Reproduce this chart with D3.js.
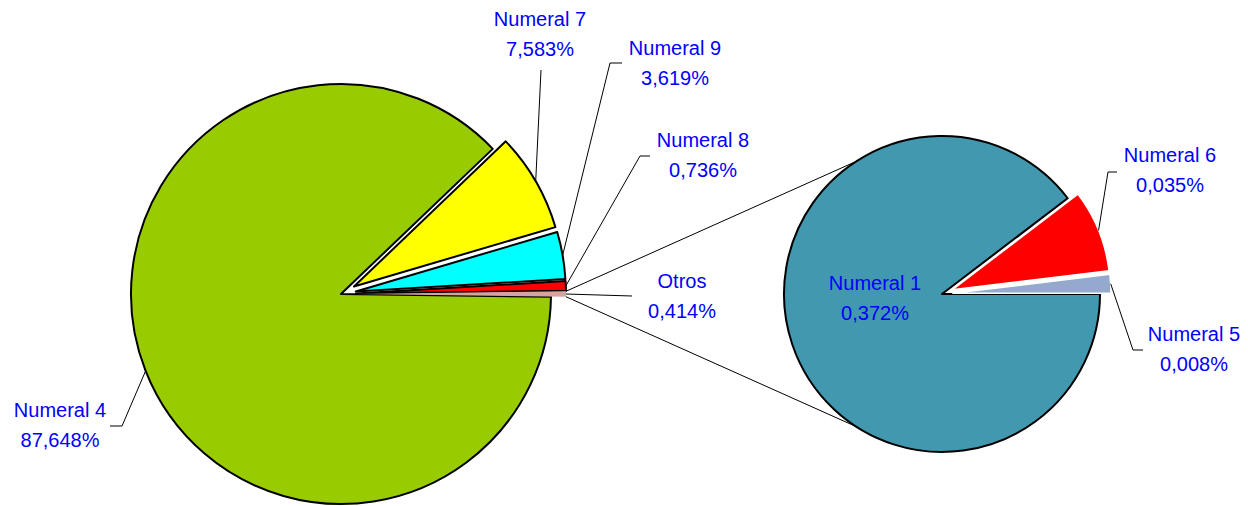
<!DOCTYPE html>
<html>
<head>
<meta charset="utf-8">
<script src="https://cdn.jsdelivr.net/npm/d3@7"></script>
<style>
  body { margin: 0; background: #ffffff; }
  svg { display: block; }
  .lbl { font-family: "Liberation Sans", Arial, sans-serif; font-size: 20px; fill: #0000ff; text-anchor: middle; }
</style>
</head>
<body>
<div id="vis"></div>
<script>
// ----------DATA----------------
const mainNames = ["Otros", "Numeral 8", "Numeral 9", "Numeral 7", "Numeral 4"];
const mainValues = [0.414, 0.736, 3.619, 7.583, 87.648];
const mainLabels = ["0,414%", "0,736%", "3,619%", "7,583%", "87,648%"];

const subNames = ["Numeral 5", "Numeral 6", "Numeral 1"];
const subValues = [0.008, 0.035, 0.372];
const subLabels = ["0,008%", "0,035%", "0,372%"];

// ----------CONSTANTS FOR PAGE SETUP----------------
const FRAME_WIDTH = 1248;
const FRAME_HEIGHT = 506;

const MAIN = { cx: 341, cy: 294, r: 210, explode: 15 };
const SUB = { cx: 942, cy: 294, r: 158, explode: 11 };

const mainColors = ["#d9a2a2", "#ff0000", "#00ffff", "#ffff00", "#99cc00"];
const subColors = ["#95a9cf", "#ff0000", "#4298af"];

// label text position (x center, first baseline) and leader elbow points
const mainLayout = [
  { x: 682, y: 288, path: [[632, 296]] },
  { x: 703, y: 147, path: [[640, 156], [650, 156]] },
  { x: 675, y: 55, path: [[610, 63], [622, 63]] },
  { x: 540, y: 26, path: [[541, 70]] },
  { x: 60, y: 417, path: [[122, 426], [110, 426]] }
];
const subLayout = [
  { x: 1194, y: 341, path: [[1133, 350], [1143, 350]] },
  { x: 1170, y: 162, path: [[1108, 172], [1117, 172]] },
  { x: 875, y: 290, path: null }
];

const FRAME = d3.select("#vis")
  .append("svg")
  .attr("width", FRAME_WIDTH)
  .attr("height", FRAME_HEIGHT);

// math angle (ccw from east, radians) of a d3 arc angle
const toMath = a => Math.PI / 2 - a;

function buildPie(values, conf, firstStart) {
  const pie = d3.pie().sort(null)
    .startAngle(firstStart)
    .endAngle(firstStart - 2 * Math.PI);
  return pie(values).map((d, i) => {
    const mid = toMath((d.startAngle + d.endAngle) / 2);
    const ex = (i === values.length - 1) ? 0 : conf.explode;
    d.dx = ex * Math.cos(mid);
    d.dy = -ex * Math.sin(mid);
    d.mid = mid;
    d.edge = [conf.cx + d.dx + conf.r * Math.cos(mid), conf.cy + d.dy - conf.r * Math.sin(mid)];
    return d;
  });
}

const otrosSpan = mainValues[0] / d3.sum(mainValues) * 2 * Math.PI;
const mainArcs = buildPie(mainValues, MAIN, Math.PI / 2 + otrosSpan / 2);
const subArcs = buildPie(subValues, SUB, Math.PI / 2);

// ---------CONNECTOR LINES BETWEEN PIES-------------
const otros = mainArcs[0];
const conn = [otros.startAngle, otros.endAngle].map((a, k) => {
  const t = toMath(a);
  const start = [MAIN.cx + otros.dx + MAIN.r * Math.cos(t), MAIN.cy + otros.dy - MAIN.r * Math.sin(t)];
  const phi = (k === 0 ? -1 : 1) * 123 * Math.PI / 180;
  const end = [SUB.cx + SUB.r * Math.cos(phi), SUB.cy - SUB.r * Math.sin(phi)];
  return [start, end];
});
FRAME.append("g").selectAll("line")
  .data(conn)
  .enter()
  .append("line")
  .attr("x1", d => d[0][0]).attr("y1", d => d[0][1])
  .attr("x2", d => d[1][0]).attr("y2", d => d[1][1])
  .attr("stroke", "#000").attr("stroke-width", 1);

// ---------SLICES-------------
const mainArc = d3.arc().innerRadius(0).outerRadius(MAIN.r);
const subArc = d3.arc().innerRadius(0).outerRadius(SUB.r);

// draw big slice first so exploded ones sit on top
const mainOrder = mainArcs.slice().reverse();
FRAME.append("g").selectAll("path")
  .data(mainOrder)
  .enter()
  .append("path")
  .attr("transform", d => `translate(${MAIN.cx + d.dx},${MAIN.cy + d.dy})`)
  .attr("d", mainArc)
  .attr("fill", d => mainColors[d.index])
  .attr("stroke", d => d.index === 0 ? "none" : "#000")
  .attr("stroke-width", 2)
  .attr("stroke-linejoin", "round");

const subOrder = subArcs.slice().reverse();
FRAME.append("g").selectAll("path")
  .data(subOrder)
  .enter()
  .append("path")
  .attr("transform", d => `translate(${SUB.cx + d.dx},${SUB.cy + d.dy})`)
  .attr("d", subArc)
  .attr("fill", d => subColors[d.index])
  .attr("stroke", d => d.index === 2 ? "#000" : "#fff")
  .attr("stroke-width", d => d.index === 2 ? 2 : 1.5)
  .attr("stroke-linejoin", "round");

// ---------LEADER LINES AND LABELS-------------
function drawLabels(arcs, layout, names, labels) {
  const line = d3.line();
  arcs.forEach((d, i) => {
    const L = layout[i];
    if (L.path) {
      FRAME.append("path")
        .attr("d", line([d.edge].concat(L.path)))
        .attr("fill", "none")
        .attr("stroke", "#000")
        .attr("stroke-width", 1);
    }
    const t = FRAME.append("text").attr("class", "lbl").attr("x", L.x).attr("y", L.y);
    t.append("tspan").attr("x", L.x).text(names[i]);
    t.append("tspan").attr("x", L.x).attr("dy", 30).text(labels[i]);
  });
}
drawLabels(mainArcs, mainLayout, mainNames, mainLabels);
drawLabels(subArcs, subLayout, subNames, subLabels);
</script>
</body>
</html>
